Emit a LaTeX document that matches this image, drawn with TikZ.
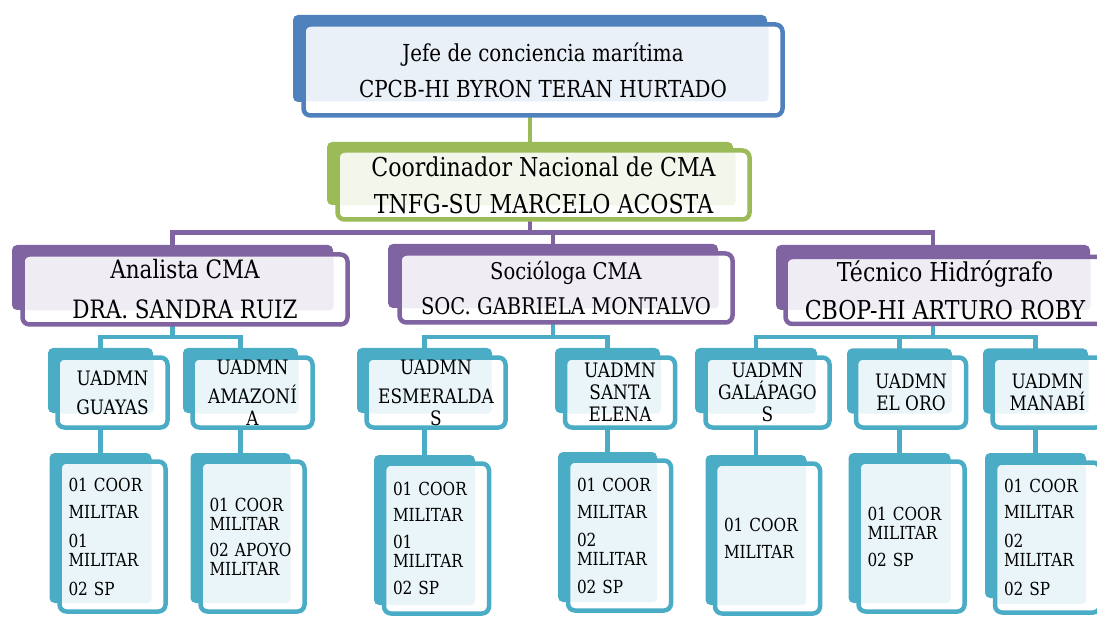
\documentclass[tikz,border=0pt]{standalone}
\usepackage{fontspec}
\setmainfont{DejaVu Serif}[FakeStretch=0.85]
\usetikzlibrary{backgrounds}

\definecolor{azul}{RGB}{79,129,189}
\definecolor{verde}{RGB}{155,187,89}
\definecolor{morado}{RGB}{128,100,162}
\definecolor{celeste}{RGB}{75,172,198}

\begin{document}
\begin{tikzpicture}[x=1pt, y=-1pt,
    fondo/.style={rectangle, fill=#1, rounded corners=5pt, inner sep=0pt},
    frente/.style 2 args={rectangle, draw=#1, fill=white, line width=4.5pt,
        rounded corners=7pt, inner sep=0pt, align=center,
        path picture={\fill[#1!12, rounded corners=4pt]
            (path picture bounding box.north west) rectangle
            ([shift={(-14pt,#2)}]path picture bounding box.south east);}},
    lista/.style={align=left, inner xsep=9pt, font=\fontsize{18}{19}\selectfont},
    conector/.style={draw=#1, line width=4.5pt}]

    \useasboundingbox (0,0) rectangle (1097,617);

    % Jefe de conciencia maritima (nivel 1)
    \node[fondo=azul, minimum width=474pt, minimum height=87pt] (jefe-f) at (530,58.5) {};
    \node[frente={azul}{14pt}, minimum width=479pt, minimum height=91pt,
        font=\fontsize{23.4}{36}\selectfont] (jefe) at ([shift={(13,11.5)}]jefe-f.center)
        {Jefe de conciencia marítima\\CPCB-HI BYRON TERAN HURTADO};

    % Coordinador nacional (nivel 2)
    \node[fondo=verde, minimum width=406pt, minimum height=63pt] (coord-f) at (530,173.5) {};
    \node[frente={verde}{14pt}, minimum width=412pt, minimum height=69pt,
        font=\fontsize{26}{37}\selectfont] (coord) at ([shift={(13.5,11.5)}]coord-f.center)
        {Coordinador Nacional de CMA\\TNFG-SU MARCELO ACOSTA};

    % Analista, sociologa y tecnico (nivel 3)
    \node[fondo=morado, minimum width=321pt, minimum height=65pt] (analista-f) at (172.5,277.5) {};
    \node[frente={morado}{14pt}, minimum width=325pt, minimum height=70pt,
        font=\fontsize{25.3}{40}\selectfont] (analista) at ([shift={(12.5,12)}]analista-f.center)
        {Analista CMA\\DRA. SANDRA RUIZ};
    \node[fondo=morado, minimum width=330pt, minimum height=64pt] (sociologa-f) at (553,276) {};
    \node[frente={morado}{14pt}, minimum width=333pt, minimum height=69pt,
        font=\fontsize{23}{35}\selectfont] (sociologa) at ([shift={(13,12)}]sociologa-f.center)
        {Socióloga CMA\\SOC. GABRIELA MONTALVO};
    \node[fondo=morado, minimum width=314pt, minimum height=65pt] (tecnico-f) at (933,277.5) {};
    \node[frente={morado}{14pt}, minimum width=319pt, minimum height=67pt,
        font=\fontsize{26}{38}\selectfont] (tecnico) at ([shift={(12,13)}]tecnico-f.center)
        {Técnico Hidrógrafo\\CBOP-HI ARTURO ROBY};

    % Unidades administrativas (nivel 4)
    \begin{scope}[font=\fontsize{19.9}{22}\selectfont]
        \node[fondo=celeste, minimum width=105pt, minimum height=65pt] (guayas-f) at (100.5,380.5) {};
        \node[frente={celeste}{14pt}, minimum width=110pt, minimum height=70pt]
            (guayas) at ([shift={(12,12)}]guayas-f.center) {UADMN\\[7pt]GUAYAS};
        \node[fondo=celeste, minimum width=115pt, minimum height=65pt] (amazonia-f) at (240.5,380.5) {};
        \node[frente={celeste}{14pt}, minimum width=120pt, minimum height=70pt]
            (amazonia) at ([shift={(12,12)}]amazonia-f.center) {UADMN\\[7pt]AMAZONÍ\\A};
        \node[fondo=celeste, minimum width=135pt, minimum height=65pt] (esmeraldas-f) at (424.5,380.5) {};
        \node[frente={celeste}{14pt}, minimum width=139pt, minimum height=70pt]
            (esmeraldas) at ([shift={(11.5,12)}]esmeraldas-f.center) {UADMN\\[7pt]ESMERALDA\\S};
        \node[fondo=celeste, minimum width=105pt, minimum height=65pt] (santaelena-f) at (607.5,380.5) {};
        \node[frente={celeste}{14pt}, minimum width=110pt, minimum height=70pt]
            (santaelena) at ([shift={(12.5,12)}]santaelena-f.center) {UADMN\\SANTA\\ELENA};
        \node[fondo=celeste, minimum width=122pt, minimum height=65pt] (galapagos-f) at (756,380.5) {};
        \node[frente={celeste}{14pt}, minimum width=124pt, minimum height=70pt]
            (galapagos) at ([shift={(11.5,12)}]galapagos-f.center) {UADMN\\GALÁPAGO\\S};
        \node[fondo=celeste, minimum width=105pt, minimum height=65pt] (eloro-f) at (899.5,381) {};
        \node[frente={celeste}{14pt}, minimum width=110pt, minimum height=70pt]
            (eloro) at ([shift={(11.5,11.5)}]eloro-f.center) {UADMN\\EL ORO};
        \node[fondo=celeste, minimum width=105pt, minimum height=65pt] (manabi-f) at (1035.5,381) {};
        \node[frente={celeste}{14pt}, minimum width=110pt, minimum height=70pt]
            (manabi) at ([shift={(12,11.5)}]manabi-f.center) {UADMN\\MANABÍ};
    \end{scope}

    % Personal de cada unidad (nivel 5)
    \node[fondo=celeste, minimum width=102pt, minimum height=150pt] (guayas-p-f) at (100.5,528) {};
    \node[frente={celeste}{8.5pt}, lista, minimum width=106pt, minimum height=150pt, text width=88pt]
        (guayas-p) at ([shift={(12,8.5)}]guayas-p-f.center)
        {01 COOR\\[8pt]MILITAR\\[10pt]01\\MILITAR\\[10pt]02 SP};
    \node[fondo=celeste, minimum width=100pt, minimum height=150pt] (amazonia-p-f) at (240.5,528) {};
    \node[frente={celeste}{8.5pt}, lista, minimum width=104pt, minimum height=150pt, text width=86pt]
        (amazonia-p) at ([shift={(12,8.5)}]amazonia-p-f.center)
        {01 COOR\\MILITAR\\[7pt]02~APOYO\\MILITAR};
    \node[fondo=celeste, minimum width=101pt, minimum height=150pt] (esmeraldas-p-f) at (424.5,530) {};
    \node[frente={celeste}{8.5pt}, lista, minimum width=105pt, minimum height=150pt, text width=87pt]
        (esmeraldas-p) at ([shift={(12,8.5)}]esmeraldas-p-f.center)
        {01 COOR\\[7pt]MILITAR\\[8pt]01\\MILITAR\\[8pt]02 SP};
    \node[fondo=celeste, minimum width=99pt, minimum height=150pt] (santaelena-p-f) at (607.5,527) {};
    \node[frente={celeste}{8.5pt}, lista, minimum width=103pt, minimum height=150pt, text width=85pt]
        (santaelena-p) at ([shift={(12,8.5)}]santaelena-p-f.center)
        {01 COOR\\[8pt]MILITAR\\[9pt]02\\MILITAR\\[9pt]02 SP};
    \node[fondo=celeste, minimum width=101pt, minimum height=150pt] (galapagos-p-f) at (756,530) {};
    \node[frente={celeste}{8.5pt}, lista, minimum width=105pt, minimum height=150pt, text width=87pt]
        (galapagos-p) at ([shift={(11.5,8.5)}]galapagos-p-f.center)
        {01 COOR\\[8pt]MILITAR};
    \node[fondo=celeste, minimum width=102pt, minimum height=150pt] (eloro-p-f) at (899.5,528) {};
    \node[frente={celeste}{8.5pt}, lista, minimum width=106pt, minimum height=150pt, text width=88pt]
        (eloro-p) at ([shift={(12,8.5)}]eloro-p-f.center)
        {01 COOR\\MILITAR\\[8pt]02 SP};
    \node[fondo=celeste, minimum width=101pt, minimum height=145pt] (manabi-p-f) at (1035.5,525.5) {};
    \node[frente={celeste}{8.5pt}, lista, minimum width=105pt, minimum height=150pt, text width=87pt]
        (manabi-p) at ([shift={(12,12)}]manabi-p-f.center)
        {01 COOR\\[7pt]MILITAR\\[10pt]02\\MILITAR\\[10pt]02 SP};

    % Conectores, por detras de las cajas
    \begin{scope}[on background layer]
        \coordinate (bus1) at (0,232.5);
        \coordinate (bus2) at (0,337);
        \draw[conector=verde] (jefe-f) -- (coord-f);
        \foreach \hijo in {analista, sociologa, tecnico}
            \draw[conector=morado] (coord-f.center) |- (bus1 -| \hijo-f.center) -- (\hijo-f.center);
        \foreach \hijo in {guayas, amazonia}
            \draw[conector=celeste] (analista-f.center) |- (bus2 -| \hijo-f.center) -- (\hijo-f.center);
        \foreach \hijo in {esmeraldas, santaelena}
            \draw[conector=celeste] (sociologa-f.center) |- (bus2 -| \hijo-f.center) -- (\hijo-f.center);
        \foreach \hijo in {galapagos, eloro, manabi}
            \draw[conector=celeste] (tecnico-f.center) |- (bus2 -| \hijo-f.center) -- (\hijo-f.center);
        \foreach \hijo in {guayas, amazonia, esmeraldas, santaelena, galapagos, eloro, manabi}
            \draw[conector=celeste] (\hijo-f) -- (\hijo-p-f);
    \end{scope}

\end{tikzpicture}
\end{document}
